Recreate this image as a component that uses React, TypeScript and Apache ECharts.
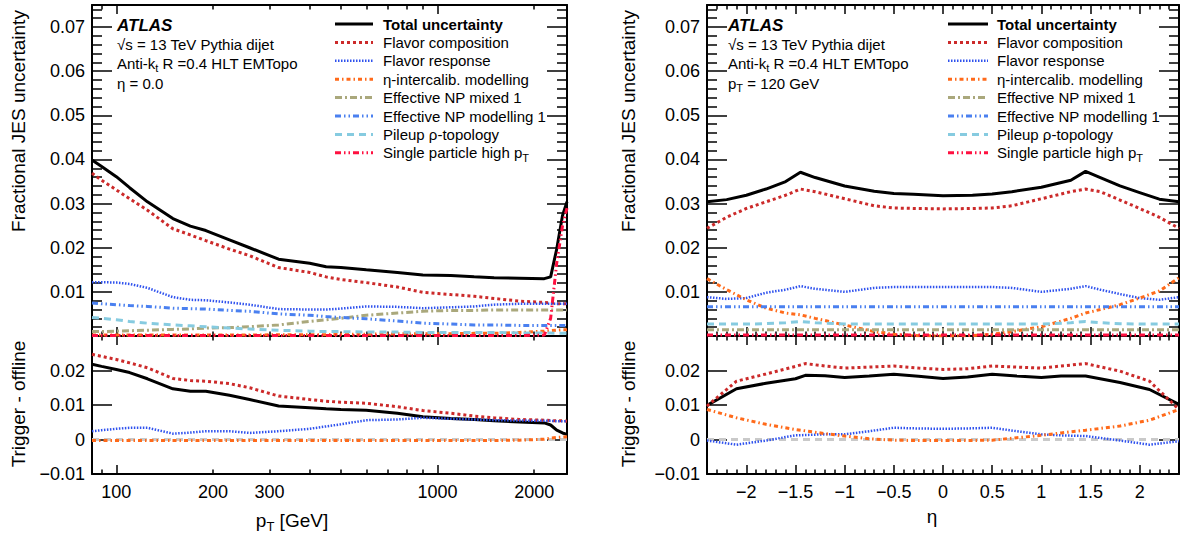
import React, { useEffect, useRef } from "react";
import * as echarts from "echarts";

// ---------------- data ----------------
// Left panels: eta = 0, x = jet pT [GeV]
const PT_GEV = [84, 90, 100, 110, 125, 150, 170, 190, 225, 260, 320, 400, 450, 500, 600, 750, 900, 1100, 1300, 1500, 1800, 2150, 2250, 2350, 2450, 2530];

const PT_TOTAL = [0.0399, 0.0384, 0.0361, 0.0336, 0.0304, 0.0266, 0.0249, 0.0239, 0.0218, 0.0200, 0.0174, 0.0165, 0.0157, 0.0155, 0.0150, 0.0144, 0.0138, 0.0137, 0.0134, 0.0132, 0.0131, 0.0130, 0.0134, 0.0197, 0.0273, 0.0304];
const PT_FLAVCOMP = [0.0369, 0.0353, 0.0331, 0.0311, 0.0285, 0.0243, 0.0229, 0.0216, 0.0197, 0.0182, 0.0155, 0.0144, 0.0134, 0.0128, 0.0121, 0.0111, 0.0099, 0.0094, 0.0090, 0.0085, 0.0079, 0.0076, 0.0075, 0.0073, 0.0073, 0.0073];
const PT_FLAVRESP = [0.0122, 0.0122, 0.0121, 0.0118, 0.0109, 0.0088, 0.0082, 0.0081, 0.0076, 0.0071, 0.0061, 0.0060, 0.0060, 0.0062, 0.0067, 0.0066, 0.0063, 0.0065, 0.0067, 0.0071, 0.0073, 0.0073, 0.0073, 0.0073, 0.0073, 0.0073];
const PT_ETAINTER = [0.0002, 0.0002, 0.0002, 0.0002, 0.0002, 0.0002, 0.0002, 0.0002, 0.0002, 0.0002, 0.0003, 0.0003, 0.0003, 0.0004, 0.0004, 0.0005, 0.0005, 0.0005, 0.0006, 0.0006, 0.0008, 0.0011, 0.0012, 0.0013, 0.0014, 0.0014];
const PT_NPMIXED = [0.0010, 0.0010, 0.0011, 0.0012, 0.0013, 0.0015, 0.0016, 0.0018, 0.0019, 0.0021, 0.0025, 0.0033, 0.0037, 0.0040, 0.0047, 0.0052, 0.0056, 0.0058, 0.0058, 0.0059, 0.0059, 0.0059, 0.0059, 0.0059, 0.0059, 0.0059];
const PT_NPMODEL = [0.0075, 0.0073, 0.0071, 0.0069, 0.0067, 0.0063, 0.0062, 0.0061, 0.0058, 0.0056, 0.0050, 0.0047, 0.0044, 0.0042, 0.0039, 0.0034, 0.0029, 0.0027, 0.0025, 0.0025, 0.0024, 0.0024, 0.0024, 0.0024, 0.0024, 0.0024];
const PT_PILEUP = [0.0042, 0.0040, 0.0037, 0.0033, 0.0029, 0.0025, 0.0023, 0.0021, 0.0018, 0.0016, 0.0013, 0.0011, 0.0010, 0.0010, 0.0009, 0.0009, 0.0008, 0.0008, 0.0008, 0.0008, 0.0007, 0.0007, 0.0007, 0.0006, 0.0006, 0.0006];
const PT_SINGLE = [0.0001, 0.0001, 0.0001, 0.0001, 0.0001, 0.0001, 0.0001, 0.0001, 0.0001, 0.0001, 0.0001, 0.0001, 0.0001, 0.0001, 0.0001, 0.0001, 0.0001, 0.0001, 0.0001, 0.0001, 0.0001, 0.0002, 0.0040, 0.0165, 0.0250, 0.0290];

// Trigger - offline, pT
const PT_TOTAL_D = [0.0218, 0.0212, 0.0203, 0.0194, 0.0176, 0.0147, 0.0140, 0.0140, 0.0128, 0.0116, 0.0097, 0.0092, 0.0089, 0.0087, 0.0085, 0.0076, 0.0066, 0.0061, 0.0058, 0.0054, 0.0051, 0.0048, 0.0042, 0.0027, 0.0019, 0.0015];
const PT_FLAVCOMP_D = [0.0247, 0.0241, 0.0232, 0.0222, 0.0208, 0.0177, 0.0171, 0.0169, 0.0162, 0.0150, 0.0126, 0.0116, 0.0111, 0.0108, 0.0105, 0.0095, 0.0084, 0.0076, 0.0068, 0.0063, 0.0058, 0.0056, 0.0055, 0.0054, 0.0054, 0.0053];
const PT_FLAVRESP_D = [0.0024, 0.0027, 0.0031, 0.0034, 0.0034, 0.0017, 0.0020, 0.0024, 0.0024, 0.0019, 0.0024, 0.0031, 0.0038, 0.0044, 0.0056, 0.0058, 0.0063, 0.0060, 0.0058, 0.0056, 0.0055, 0.0054, 0.0054, 0.0053, 0.0053, 0.0053];
const PT_ETAINTER_D = [-0.0003, -0.0003, -0.0003, -0.0003, -0.0003, -0.0003, -0.0003, -0.0003, -0.0003, -0.0003, -0.0003, -0.0003, -0.0003, -0.0003, -0.0003, -0.0003, -0.0003, -0.0003, -0.0003, -0.0003, -0.0002, 0.0001, 0.0004, 0.0006, 0.0007, 0.0008];
const PT_PILEUP_D = [0, 0, 0, 0, 0, 0, 0, 0, 0, 0, 0, 0, 0, 0, 0, 0, 0, 0, 0, 0, 0, 0, 0, 0, 0, 0];

// Right panels: pT = 120 GeV, x = eta
const ETA_T = [-2.4, -2.2, -2.0, -1.8, -1.6, -1.45, -1.3, -1.0, -0.7, -0.5, -0.3, 0, 0.3, 0.5, 0.7, 1.0, 1.3, 1.45, 1.6, 1.8, 2.0, 2.2, 2.4];
const ETA_TOTAL = [0.0304, 0.0309, 0.0319, 0.0333, 0.0350, 0.0371, 0.0359, 0.0340, 0.0328, 0.0323, 0.0321, 0.0318, 0.0319, 0.0322, 0.0327, 0.0337, 0.0353, 0.0373, 0.0359, 0.0340, 0.0325, 0.0310, 0.0304];
const ETA_FLAVCOMP = [0.0244, 0.0269, 0.0289, 0.0304, 0.0319, 0.0333, 0.0327, 0.0311, 0.0295, 0.0290, 0.0289, 0.0288, 0.0289, 0.0290, 0.0295, 0.0311, 0.0327, 0.0333, 0.0327, 0.0308, 0.0289, 0.0269, 0.0244];
const ETA_FLAVRESP = [0.0088, 0.0084, 0.0086, 0.0098, 0.0105, 0.0113, 0.0107, 0.0100, 0.0109, 0.0111, 0.0111, 0.0111, 0.0111, 0.0111, 0.0109, 0.0100, 0.0107, 0.0113, 0.0105, 0.0095, 0.0086, 0.0082, 0.0088];
const ETA_ETAINTER = [0.0130, 0.0105, 0.0082, 0.0063, 0.0052, 0.0048, 0.0040, 0.0025, 0.0010, 0.0004, 0.0001, 0.0000, 0.0001, 0.0004, 0.0010, 0.0021, 0.0040, 0.0052, 0.0060, 0.0071, 0.0086, 0.0102, 0.0132];
const ETA_NPMIXED = [0.0014, 0.0014, 0.0014, 0.0014, 0.0014, 0.0014, 0.0014, 0.0014, 0.0014, 0.0014, 0.0014, 0.0014, 0.0014, 0.0014, 0.0014, 0.0014, 0.0014, 0.0014, 0.0014, 0.0014, 0.0014, 0.0014, 0.0014];
const ETA_NPMODEL = [0.0066, 0.0066, 0.0066, 0.0066, 0.0066, 0.0066, 0.0066, 0.0066, 0.0066, 0.0066, 0.0066, 0.0066, 0.0066, 0.0066, 0.0066, 0.0066, 0.0066, 0.0066, 0.0066, 0.0066, 0.0066, 0.0066, 0.0066];
const ETA_PILEUP = [0.0027, 0.0027, 0.0027, 0.0028, 0.0030, 0.0033, 0.0030, 0.0027, 0.0027, 0.0027, 0.0027, 0.0027, 0.0027, 0.0027, 0.0027, 0.0027, 0.0030, 0.0033, 0.0030, 0.0028, 0.0027, 0.0027, 0.0027];
const ETA_SINGLE = [0.0002, 0.0002, 0.0002, 0.0002, 0.0002, 0.0002, 0.0002, 0.0002, 0.0002, 0.0002, 0.0002, 0.0002, 0.0002, 0.0002, 0.0002, 0.0002, 0.0002, 0.0002, 0.0002, 0.0002, 0.0002, 0.0002, 0.0002];

// Trigger - offline, eta
const ETA_B = [-2.4, -2.1, -1.8, -1.5, -1.4, -1.2, -1.0, -0.75, -0.5, -0.25, 0, 0.25, 0.5, 0.75, 1.0, 1.2, 1.45, 1.8, 2.1, 2.4];
const ETA_TOTAL_D = [0.0099, 0.0147, 0.0163, 0.0176, 0.0186, 0.0185, 0.0180, 0.0184, 0.0189, 0.0183, 0.0177, 0.0181, 0.0189, 0.0184, 0.0180, 0.0184, 0.0184, 0.0165, 0.0145, 0.0102];
const ETA_FLAVCOMP_D = [0.0097, 0.0169, 0.0190, 0.0212, 0.0220, 0.0213, 0.0207, 0.0210, 0.0213, 0.0207, 0.0203, 0.0205, 0.0213, 0.0210, 0.0207, 0.0213, 0.0220, 0.0198, 0.0169, 0.0087];
const ETA_FLAVRESP_D = [-0.0003, -0.0015, -0.0003, 0.0012, 0.0013, 0.0015, 0.0015, 0.0024, 0.0034, 0.0032, 0.0031, 0.0032, 0.0034, 0.0024, 0.0015, 0.0012, 0.0010, -0.0003, -0.0015, -0.0005];
const ETA_ETAINTER_D = [0.0087, 0.0063, 0.0044, 0.0029, 0.0025, 0.0017, 0.0010, 0.0002, -0.0002, -0.0003, -0.0003, -0.0003, -0.0002, 0.0005, 0.0012, 0.0019, 0.0027, 0.0039, 0.0056, 0.0087];
const ETA_PILEUP_D = [0, 0, 0, 0, 0, 0, 0, 0, 0, 0, 0, 0, 0, 0, 0, 0, 0, 0, 0, 0];

// tick labels
const PT_LABELS = [100, 200, 300, 1000, 2000];
const PT_MAJOR_TICKS = [100, 1000];
const PT_MINOR_TICKS = [90, 200, 300, 400, 500, 600, 700, 800, 900, 2000];
const ETA_LABELS = [-2, -1.5, -1, -0.5, 0, 0.5, 1, 1.5, 2];
const Y_TOP_LABELS = [0.01, 0.02, 0.03, 0.04, 0.05, 0.06, 0.07];
const Y_BOT_LABELS = [-0.01, 0, 0.01, 0.02];

// ---------------- styles ----------------
const FONT = "'Liberation Sans', Arial, Helvetica, sans-serif";
const SERIES_META: any[] = [
  { name: "Total uncertainty", rich: "Total uncertainty", bold: true, color: "#000000", width: 3, dash: "solid" },
  { name: "Flavor composition", rich: "Flavor composition", color: "#cc2a2a", width: 3, dash: [3, 3] },
  { name: "Flavor response", rich: "Flavor response", color: "#2f52ee", width: 2.5, dash: [1.5, 1.5] },
  { name: "η-intercalib. modelling", rich: "η-intercalib. modelling", color: "#ff6a1a", width: 3, dash: [4, 3, 1.5, 3] },
  { name: "Effective NP mixed 1", rich: "Effective NP mixed 1", color: "#aaa87c", width: 3, dash: [7, 3, 2, 3] },
  { name: "Effective NP modelling 1", rich: "Effective NP modelling 1", color: "#4a80f0", width: 3, dash: [6, 3, 1.5, 3, 1.5, 3] },
  { name: "Pileup ρ-topology", rich: "Pileup ρ-topology", color: "#86cbe0", width: 3, dash: [7, 5] },
  { name: "Single particle high pT", rich: "Single particle high p{sub|T}", color: "#ff1040", width: 3, dash: [6, 3, 1.5, 3, 1.5, 3] },
];

const GRIDS = [
  { left: 92, top: 5, width: 475, height: 331 },
  { left: 92, top: 336, width: 475, height: 138 },
  { left: 707, top: 5, width: 472, height: 331 },
  { left: 707, top: 336, width: 472, height: 138 },
];

const AX_LINE = { show: true, onZero: false, lineStyle: { color: "#000", width: 2 } };
const NO_LINE = { show: false, onZero: false };
const TICK_LINE = { color: "#000", width: 1.5 };
const LABEL_BASE = { color: "#000", fontSize: 18, fontFamily: FONT };

function fmtY(v: number) {
  if (Math.abs(v) < 1e-9) return "0";
  const s = Math.abs(v).toFixed(2);
  return v < 0 ? "\u2212" + s : s;
}
function fmtEta(v: number) {
  if (Math.abs(v) < 1e-9) return "0";
  const s = String(Math.abs(Math.round(v * 10) / 10));
  return v < 0 ? "\u2212" + s : s;
}

function buildOption() {
  const xAxis: any[] = [];
  const yAxis: any[] = [];
  const series: any[] = [];

  const addX = (g: number, min: number, max: number, major: number[], minor: number[], labels: number[] | null, fmt: any, majLen: number, minLen: number) => {
    const base = { type: "value", gridIndex: g, min, max, splitLine: { show: false } };
    const first = xAxis.length;
    const mk = (position: string, ticks: number[], len: number, line: boolean, lab: boolean) => ({
      ...base,
      position,
      axisLine: line ? AX_LINE : NO_LINE,
      axisTick: { show: true, inside: true, length: len, customValues: ticks, lineStyle: TICK_LINE },
      axisLabel: lab && labels ? { ...LABEL_BASE, show: true, customValues: labels, formatter: fmt, margin: 9 } : { show: false },
    });
    xAxis.push(mk("bottom", major, majLen, true, true));
    xAxis.push(mk("bottom", minor, minLen, false, false));
    xAxis.push(mk("top", major, majLen, true, false));
    xAxis.push(mk("top", minor, minLen, false, false));
    return first;
  };
  const addY = (g: number, min: number, max: number, major: number[], minor: number[], labels: number[]) => {
    const base = { type: "value", gridIndex: g, min, max, splitLine: { show: false } };
    const first = yAxis.length;
    const mk = (position: string, ticks: number[], len: number, line: boolean, lab: boolean) => ({
      ...base,
      position,
      axisLine: line ? AX_LINE : NO_LINE,
      axisTick: { show: true, inside: true, length: len, customValues: ticks, lineStyle: TICK_LINE },
      axisLabel: lab ? { ...LABEL_BASE, show: true, customValues: labels, formatter: fmtY, margin: 7 } : { show: false },
    });
    yAxis.push(mk("left", major, 20, true, true));
    yAxis.push(mk("right", major, 20, true, false));
    if (minor.length) {
      yAxis.push(mk("left", minor, 10, false, false));
      yAxis.push(mk("right", minor, 10, false, false));
    }
    return first;
  };

  // tick positions
  const yTopMajor: number[] = [];
  const yTopMinor: number[] = [];
  for (let i = 0; i <= 37; i++) {
    const v = Math.round(i * 2) / 1000;
    if (i % 5 === 0) yTopMajor.push(v);
    else yTopMinor.push(v);
  }
  const yBotMajor = [-0.01, 0, 0.01, 0.02, 0.03];
  const etaMajor: number[] = [];
  const etaMinor: number[] = [];
  for (let i = -24; i <= 24; i++) {
    const v = i / 10;
    if (i % 5 === 0) etaMajor.push(v);
    else etaMinor.push(v);
  }
  const lg = (a: number[]) => a.map((v) => Math.log10(v));
  const ptFmt = (v: number) => String(Math.round(Math.pow(10, v)));
  const ptMin = Math.log10(84);
  const ptMax = Math.log10(2530);

  const panels: any[] = [
    { g: 0, xs: PT_GEV.map((v) => Math.log10(v)), ymin: 0, ymax: 0.075, data: [PT_TOTAL, PT_FLAVCOMP, PT_FLAVRESP, PT_ETAINTER, PT_NPMIXED, PT_NPMODEL, PT_PILEUP, PT_SINGLE], log: true, top: true },
    { g: 1, xs: PT_GEV.map((v) => Math.log10(v)), ymin: -0.01, ymax: 0.03, data: [PT_TOTAL_D, PT_FLAVCOMP_D, PT_FLAVRESP_D, PT_ETAINTER_D, null, null, PT_PILEUP_D, null], log: true, top: false },
    { g: 2, xs: ETA_T, ymin: 0, ymax: 0.075, data: [ETA_TOTAL, ETA_FLAVCOMP, ETA_FLAVRESP, ETA_ETAINTER, ETA_NPMIXED, ETA_NPMODEL, ETA_PILEUP, ETA_SINGLE], log: false, top: true },
    { g: 3, xs: ETA_B, ymin: -0.01, ymax: 0.03, data: [ETA_TOTAL_D, ETA_FLAVCOMP_D, ETA_FLAVRESP_D, ETA_ETAINTER_D, null, null, ETA_PILEUP_D, null], log: false, top: false },
  ];

  panels.forEach((p) => {
    const xi = p.log
      ? addX(p.g, ptMin, ptMax, lg(PT_MAJOR_TICKS), lg(PT_MINOR_TICKS), p.top ? null : lg(PT_LABELS), ptFmt, 9, 4.5)
      : addX(p.g, -2.4, 2.4, etaMajor, etaMinor, p.top ? null : ETA_LABELS, fmtEta, 9, 4.5);
    const yi = p.top
      ? addY(p.g, p.ymin, p.ymax, yTopMajor, yTopMinor, Y_TOP_LABELS)
      : addY(p.g, p.ymin, p.ymax, yBotMajor, [], Y_BOT_LABELS);
    SERIES_META.forEach((m, k) => {
      const vals = p.data[k];
      if (!vals) return;
      let z = 2;
      if (!p.top && k === 6) z = 1;
      if (!p.top && k === 3) z = 3;
      series.push({
        type: "line",
        name: m.name,
        xAxisIndex: xi,
        yAxisIndex: yi,
        showSymbol: false,
        symbol: "none",
        z,
        lineStyle: { color: !p.top && k === 6 ? "#c9c9c9" : m.color, width: m.width, type: m.dash, cap: "butt" },
        data: p.xs.map((x: number, i: number) => [x, vals[i]]),
      });
    });
  });

  // ---------- graphic (annotations, legends, titles) ----------
  const graphic: any[] = [];
  const sub = (fs: number) => ({ sub: { fontSize: fs, fontFamily: FONT, fill: "#000", padding: [Math.round(fs * 0.9), 0, 0, 0] } });
  const txt = (x: number, y: number, text: string, fs: number, extra: any = {}) => ({
    type: "text",
    x,
    y,
    silent: true,
    style: { text, fill: "#000", fontSize: fs, fontFamily: FONT, align: "left", verticalAlign: "middle", rich: sub(Math.round(fs * 0.7)), ...extra },
  });

  const annots = [
    { x: 117, last: "η = 0.0" },
    { x: 728, last: "p{sub|T} = 120 GeV" },
  ];
  annots.forEach((a) => {
    graphic.push(txt(a.x, 25, "ATLAS", 17, { fontWeight: "bold", fontStyle: "italic" }));
    graphic.push(txt(a.x, 44, "√s = 13 TeV Pythia dijet", 15));
    graphic.push(txt(a.x, 63, "Anti-k{sub|t} R =0.4 HLT EMTopo", 15));
    graphic.push(txt(a.x, 83, a.last, 15));
  });

  const legends = [
    { x0: 335, x1: 373, tx: 383 },
    { x0: 948, x1: 988, tx: 997 },
  ];
  legends.forEach((L) => {
    SERIES_META.forEach((m, k) => {
      const y = 24 + k * 18.4;
      graphic.push({
        type: "line",
        silent: true,
        shape: { x1: L.x0, y1: y, x2: L.x1, y2: y },
        style: { stroke: m.color, lineWidth: m.width, lineDash: m.dash === "solid" ? null : m.dash },
      });
      graphic.push(txt(L.tx, y, m.rich, 15, m.bold ? { fontWeight: "bold" } : {}));
    });
  });

  const ytitle = (x: number, y: number, text: string) => ({
    type: "text",
    x,
    y,
    rotation: Math.PI / 2,
    silent: true,
    style: { text, fill: "#000", fontSize: 19, fontFamily: FONT, align: "center", verticalAlign: "middle" },
  });
  graphic.push(ytitle(18, 121, "Fractional JES uncertainty"));
  graphic.push(ytitle(18, 404, "Trigger - offline"));
  graphic.push(ytitle(628, 121, "Fractional JES uncertainty"));
  graphic.push(ytitle(628, 404, "Trigger - offline"));
  graphic.push({
    type: "text",
    x: 292,
    y: 520,
    silent: true,
    style: { text: "p{sub|T} [GeV]", fill: "#000", fontSize: 19, fontFamily: FONT, align: "center", verticalAlign: "middle", rich: sub(13) },
  });
  graphic.push({
    type: "text",
    x: 932,
    y: 516,
    silent: true,
    style: { text: "η", fill: "#000", fontSize: 19, fontFamily: FONT, align: "center", verticalAlign: "middle" },
  });

  return {
    animation: false,
    backgroundColor: "#ffffff",
    grid: GRIDS.map((g) => ({ ...g, containLabel: false, outerBoundsMode: "none" })),
    xAxis,
    yAxis,
    series,
    graphic,
  };
}

export default function App() {
  const ref = useRef<HTMLDivElement>(null);
  useEffect(() => {
    if (!ref.current) return;
    const chart = echarts.init(ref.current, undefined, { renderer: "svg" });
    chart.setOption(buildOption() as any);
    return () => chart.dispose();
  }, []);
  return <div ref={ref} style={{ position: "absolute", left: 0, top: 0, width: 1182, height: 535, background: "#fff" }} />;
}
